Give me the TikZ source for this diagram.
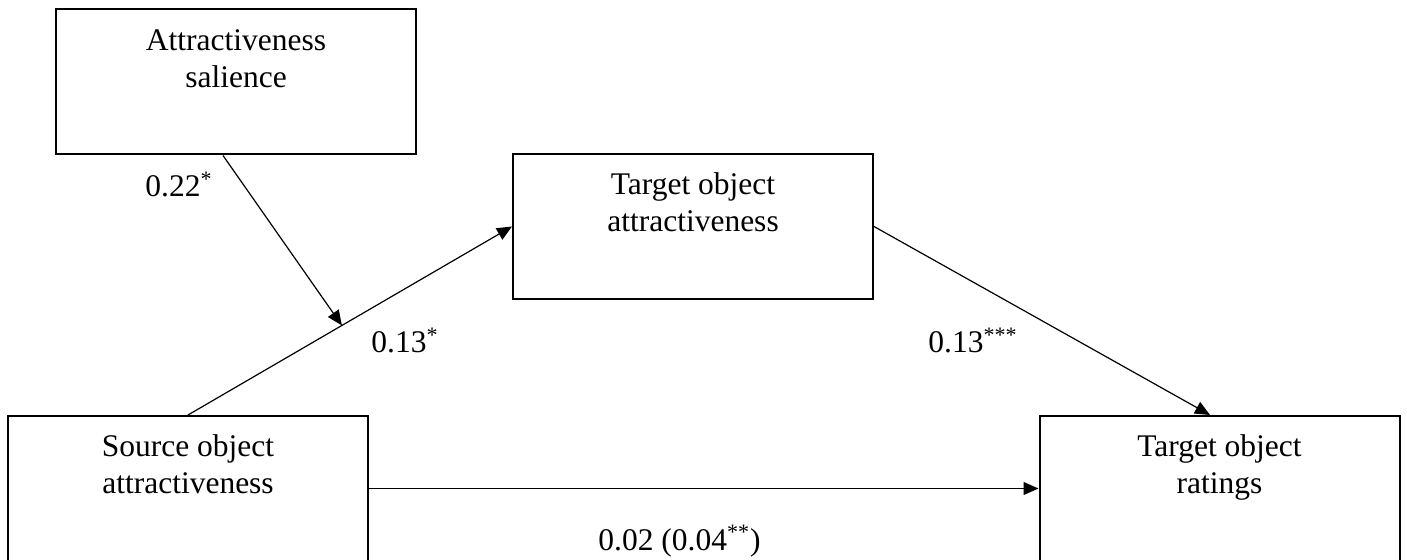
\documentclass[tikz,border=0pt]{standalone}
\usepackage{fontspec}
\setmainfont{Liberation Serif}
\usetikzlibrary{arrows.meta}
\tikzset{
  box/.style={draw, line width=1pt, minimum width=180pt, minimum height=72.5pt, inner sep=0pt},
  arr/.style={-{Triangle[length=7.5pt,width=6.5pt]}, line width=0.6pt},
  coef/.style={anchor=base west, inner sep=0pt},
}
\newcommand{\boxlabel}[1]{\parbox[c][72.5pt][t]{180pt}{\centering\rule{0pt}{20.5pt}#1\par}}
\begin{document}
\begin{tikzpicture}[x=0.5pt, y=-0.5pt, font=\fontsize{15.75}{18.5}\selectfont]
\useasboundingbox (0,0) rectangle (1407,560);
% variables
\node[box] (sal) at (236,82) {\boxlabel{Attractiveness\\salience}};
\node[box] (tatt) at (693,226.5) {\boxlabel{Target object\\attractiveness}};
\node[box] (src) at (188,488.5) {\boxlabel{Source object\\attractiveness}};
\node[box] (rat) at (1219.5,488.5) {\boxlabel{Target object\\ratings}};
% paths
\draw[arr] (src.north) -- coordinate[pos=0.475] (mod) (tatt.west);
\draw[arr] ([xshift=-6.5pt]sal.south) -- (mod);
\draw[arr] (tatt.east) -- ([xshift=-4.75pt]rat.north);
\draw[arr] (src.east) -- (rat.west);
% coefficients
\node[coef] (b1) at (145,197) {0.22\textsuperscript{*}};
\node[coef] (b2) at (371,353) {0.13\textsuperscript{*}};
\node[coef] (b3) at (928,353) {0.13\textsuperscript{***}};
\node[coef] (b4) at (598,550) {0.02 (0.04\textsuperscript{**})};
\end{tikzpicture}
\end{document}
